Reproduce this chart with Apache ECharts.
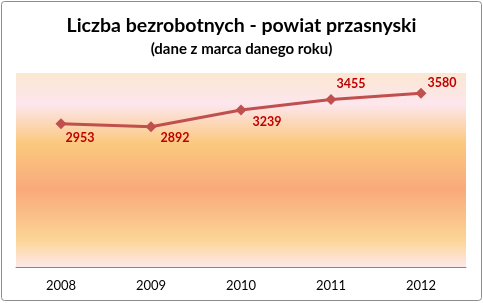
<!DOCTYPE html>
<html><head><meta charset="utf-8">
<script src="https://cdn.jsdelivr.net/npm/echarts@6/dist/echarts.min.js"></script>
<style>html,body{margin:0;padding:0;background:#fff}#c{width:483px;height:303px}</style>
</head><body><div id="c"></div>
<script>
const categories = ['2008','2009','2010','2011','2012'];
const values = [2953, 2892, 3239, 3455, 3580];
const titleText = 'Liczba bezrobotnych - powiat przasnyski';
const subtitleText = '(dane z marca danego roku)';
const labelOffsets = [[19,14],[24,11],[26,12],[20,-15],[21,-10]];

const chart = echarts.init(document.getElementById('c'), null, {renderer:'canvas'});
const F = 'Lato, "Open Sans", sans-serif';
chart.setOption({
  animation:false,
  backgroundColor:'#fff',
  title:[
    {text:titleText, left:'center', top:11, textStyle:{fontFamily:F, fontWeight:'bold', fontSize:19.5, color:'#000'}},
    {text:subtitleText, left:'center', top:37, textStyle:{fontFamily:F, fontWeight:'bold', fontSize:15, color:'#000'}}
  ],
  graphic:[{type:'rect', shape:{x:1.5,y:1.5,width:480,height:299,r:3}, style:{fill:'none', stroke:'#8c8c8c', lineWidth:1}, z:-1}],
  grid:{left:16, right:17, top:73, bottom:36,
    show:true, borderWidth:0,
    backgroundColor:{type:'linear',x:0,y:0,x2:0,y2:1,colorStops:[
      {offset:0,color:'#fbe7d0'},{offset:0.16,color:'#fde6ee'},{offset:0.36,color:'#fbc97e'},
      {offset:0.6,color:'#f9a97b'},{offset:0.86,color:'#fbd595'},{offset:1,color:'#fde8ea'}]}},
  xAxis:{type:'category', data:categories, boundaryGap:true,
    axisLine:{lineStyle:{color:'#868686',width:1}}, axisTick:{show:false},
    axisLabel:{fontFamily:F, fontSize:13, color:'#000', margin:12}},
  yAxis:{type:'value', min:0, max:4000, show:false, splitLine:{show:false}},
  series:[{type:'line', data:values.map((v,i)=>({value:v, label:{offset:labelOffsets[i]}})),
    symbol:'diamond', symbolSize:11, itemStyle:{color:'#c0504d'},
    lineStyle:{color:'#c0504d', width:3},
    label:{show:true, position:'inside', fontFamily:F, fontWeight:'bold', fontSize:12.5, color:'#c00000'}}]
});
</script></body></html>
